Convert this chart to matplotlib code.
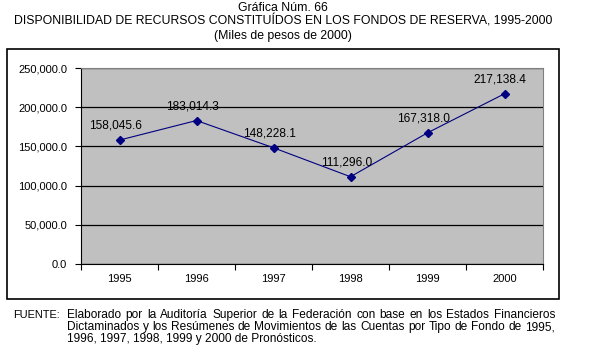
import matplotlib
matplotlib.use("Agg")
import matplotlib.pyplot as plt
from matplotlib.patches import Rectangle
from matplotlib.ticker import FuncFormatter, FixedLocator

years = ["1995", "1996", "1997", "1998", "1999", "2000"]
valores = [158045.6, 183014.3, 148228.1, 111296.0, 167318.0, 217138.4]
yticks = [0, 50000, 100000, 150000, 200000, 250000]

titulo = ["Gráfica Núm. 66",
          "DISPONIBILIDAD DE RECURSOS CONSTITUÍDOS EN LOS FONDOS DE RESERVA, 1995-2000",
          "(Miles de pesos de 2000)"]
fuente = ["Elaborado por la Auditoría Superior de la Federación con base en los Estados Financieros",
          "Dictaminados y los Resúmenes de Movimientos de las Cuentas por Tipo de Fondo de 1995,",
          "1996, 1997, 1998, 1999 y 2000 de Pronósticos."]

plt.rcParams['font.family'] = ['Liberation Sans', 'DejaVu Sans']
W, H = 589, 364
fig = plt.figure(figsize=(W / 100, H / 100), dpi=100)

# outer chart frame
fig.patches.append(Rectangle((7 / W, 1 - 299 / H), 552 / W, 250 / H,
                             transform=fig.transFigure, fill=False,
                             edgecolor='black', linewidth=1.2))

ax = fig.add_axes([81 / W, 1 - 264 / H, 462 / W, 196 / H])
ax.set_facecolor('#c0c0c0')
x = list(range(len(years)))
ax.plot(x, valores, color='#000080', linewidth=0.8, marker='D',
        markersize=4.5, markerfacecolor='#000080', markeredgecolor='#000080')
for xi, v in zip(x, valores):
    ax.annotate(f"{v:,.1f}", (xi, v), xytext=(-3, 6), textcoords='offset points',
                ha='center', va='bottom', fontsize=8.6)

ax.set_xlim(-0.5, len(years) - 0.5)
ax.set_ylim(0, 250000)
ax.set_yticks(yticks)
ax.yaxis.set_major_formatter(FuncFormatter(lambda v, p: f"{v:,.1f}"))
ax.yaxis.grid(True, color='black', linewidth=0.9)
ax.set_axisbelow(True)
ax.xaxis.set_major_locator(FixedLocator([i - 0.5 for i in range(len(years) + 1)]))
ax.xaxis.set_major_formatter(FuncFormatter(lambda v, p: ""))
ax.xaxis.set_minor_locator(FixedLocator(x))
ax.set_xticklabels(years, minor=True)
ax.tick_params(axis='x', which='minor', length=0, labelsize=8, pad=7)
ax.tick_params(axis='x', which='major', length=4, direction='out')
ax.tick_params(axis='y', length=4, labelsize=8, pad=6)
for s in ['top', 'right']:
    ax.spines[s].set_color('#808080')
for s in ['left', 'bottom']:
    ax.spines[s].set_color('black')

for txt, yp in zip(titulo, [8, 21, 36]):
    fig.text(283 / W, 1 - yp / H, txt, ha='center', va='center', fontsize=8.8)

fig.text(13 / W, 1 - 315 / H, "FUENTE:", ha='left', va='center', fontsize=7.9)

# footer, justified like the original (last line left aligned)
renderer = fig.canvas.get_renderer()
x0, x1 = 67, 555
for i, (txt, yp) in enumerate(zip(fuente, [315, 327, 339])):
    if i == len(fuente) - 1:
        fig.text(x0 / W, 1 - yp / H, txt, ha='left', va='center', fontsize=8.6)
        continue
    words = txt.split()
    arts = [fig.text(0, 1 - yp / H, w, ha='left', va='center', fontsize=8.6) for w in words]
    widths = [a.get_window_extent(renderer).width for a in arts]
    gap = (x1 - x0 - sum(widths)) / (len(words) - 1)
    pos = x0
    for a, wd in zip(arts, widths):
        a.set_x(pos / W)
        pos += wd + gap

fig.savefig("out.png", dpi=100)
